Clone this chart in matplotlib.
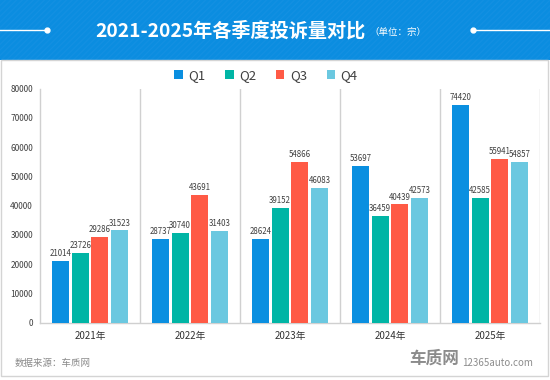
import matplotlib
matplotlib.use("Agg")
import matplotlib.pyplot as plt
from matplotlib.patches import Rectangle
import numpy as np

plt.rcParams['font.family'] = ['Noto Sans CJK SC', 'DejaVu Sans']

years = ['2021年', '2022年', '2023年', '2024年', '2025年']
series_names = ['Q1', 'Q2', 'Q3', 'Q4']
q1 = [21014, 28737, 28624, 53697, 74420]
q2 = [23726, 30740, 39152, 36459, 42585]
q3 = [29286, 43691, 54866, 40439, 55941]
q4 = [31523, 31403, 46083, 42573, 54857]
colors = ['#0a8fe0', '#00b5a5', '#ff5a45', '#6bc8e0']
yticks = [0, 10000, 20000, 30000, 40000, 50000, 60000, 70000, 80000]

title = '2021-2025年各季度投诉量对比'
unit = '（单位：宗）'
source = '数据来源：车质网'

W, H = 550, 380
fig = plt.figure(figsize=(W / 100, H / 100), dpi=100)

# background canvas in pixel coordinates
bg = fig.add_axes([0, 0, 1, 1])
bg.set_xlim(0, W)
bg.set_ylim(H, 0)
bg.axis('off')
bg.add_patch(Rectangle((0, 0), W, H, facecolor='white', edgecolor='none'))
bg.add_patch(Rectangle((0, 0), W, 60, facecolor='#0b8de0', edgecolor='none'))
bg.add_patch(Rectangle((0, 0), W, 60, facecolor='none', edgecolor='#1390e2',
                       hatch='//////', linewidth=0))
bg.add_patch(Rectangle((1, 60), W - 3, 316, facecolor='white', edgecolor='#d4d4d4',
                       linewidth=1.0))
bg.plot([0, 47], [30, 30], color='white', lw=1.0)
bg.plot([47], [30], 'o', color='white', ms=3.5)
bg.plot([473, 550], [30, 30], color='white', lw=1.0)
bg.plot([473], [30], 'o', color='white', ms=3.5)
bg.text(230, 31, title, color='white', fontsize=13.8, fontweight='bold',
        ha='center', va='center')
bg.text(398, 32, unit, color='white', fontsize=6.8, ha='center', va='center')
bg.text(15, 363, source, color='#8a8a8a', fontsize=6.8, ha='left', va='center')
bg.text(434, 359, '车质网', color='#8c8c8c', fontsize=12, fontweight='bold',
        ha='center', va='center')
bg.text(462, 363, '12365auto.com', color='#8c8c8c', fontsize=7, ha='left', va='center')

# main chart
left, right = 40 / W, 540 / W
bottom, top = 1 - 322.7 / H, 1 - 88.5 / H
ax = fig.add_axes([left, bottom, right - left, top - bottom])
ax.patch.set_alpha(0)

x = np.arange(len(years))
step, width = 0.196, 0.17
data = [q1, q2, q3, q4]
for i, (vals, name, c) in enumerate(zip(data, series_names, colors)):
    xs = x + (i - 1.5) * step
    bars = ax.bar(xs, vals, width=width, color=c, label=name, zorder=3)
    ax.bar_label(bars, labels=[str(v) for v in vals], padding=2, fontsize=5.7,
                 color='#404040', zorder=2)

ax.set_xlim(-0.5, len(years) - 0.5)
ax.set_ylim(0, 80000)
ax.set_yticks(yticks)
ax.set_yticklabels([str(t) for t in yticks], fontsize=6, color='#404040')
ax.set_xticks(x)
ax.set_xticklabels(years, fontsize=7, color='#333333')
ax.tick_params(axis='both', length=0)
ax.tick_params(axis='y', pad=5)
ax.tick_params(axis='x', pad=6)
for s in ['top', 'right']:
    ax.spines[s].set_visible(False)
for s in ['left', 'bottom']:
    ax.spines[s].set_color('#d0d0d0')
    ax.spines[s].set_linewidth(1.0)
for b in np.arange(0.5, len(years), 1.0):
    ax.axvline(b, color='#d0d0d0', lw=1.0, zorder=1, ymax=1.0)

fig.legend(loc='center', bbox_to_anchor=(266 / W, 1 - 76 / H), ncol=4,
           frameon=False, fontsize=9.5, handlelength=0.65, handleheight=0.65,
           handletextpad=0.4, columnspacing=1.5, labelcolor='#404040')

fig.savefig('out.png', dpi=100)
